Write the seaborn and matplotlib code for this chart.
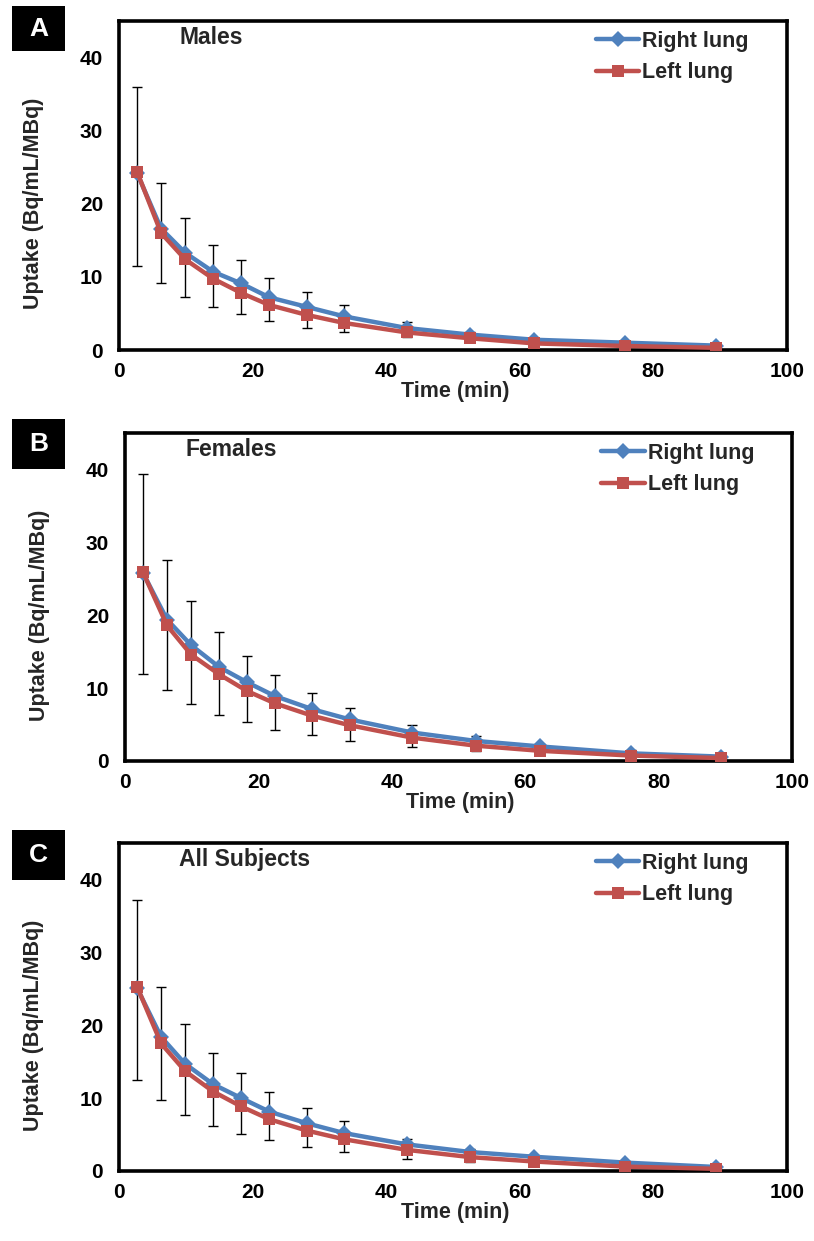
import matplotlib
import matplotlib.pyplot as plt
import pandas as pd
import seaborn as sns
from matplotlib.patches import Rectangle

matplotlib.use('Agg')

# Datos
time = [2.7, 6.3, 9.9, 14.1, 18.3, 22.5, 28.1, 33.7, 43.1, 52.6, 62.2, 75.8, 89.4]

right_males = [24.2, 16.6, 13.3, 10.7, 9.1, 7.2, 5.9, 4.6, 3.0, 2.1, 1.4, 1.0, 0.6]
left_males = [24.4, 16.0, 12.4, 9.75, 7.8, 6.15, 4.8, 3.7, 2.4, 1.6, 0.9, 0.55, 0.3]
err_top_males = [36.0, 22.9, 18.0, 14.4, 12.3, 9.8, 8.0, 6.1, 3.8, 2.5, 1.7, 1.2, 0.8]
err_bot_males = [11.5, 9.1, 7.3, 5.9, 4.9, 3.9, 3.05, 2.4, 1.8, 1.2, 0.7, 0.4, 0.2]

right_females = [25.8, 19.4, 15.9, 12.9, 10.8, 8.9, 7.1, 5.7, 3.9, 2.75, 2.0, 1.05, 0.6]
left_females = [25.9, 18.6, 14.6, 11.9, 9.6, 7.9, 6.2, 4.9, 3.2, 2.1, 1.4, 0.75, 0.4]
err_top_females = [39.4, 27.6, 21.9, 17.7, 14.4, 11.8, 9.3, 7.3, 5.0, 3.4, 2.4, 1.5, 0.9]
err_bot_females = [11.9, 9.7, 7.8, 6.35, 5.3, 4.3, 3.6, 2.8, 1.9, 1.4, 1.0, 0.5, 0.3]

right_all = [25.1, 18.4, 14.7, 11.9, 10.0, 8.15, 6.55, 5.2, 3.65, 2.6, 1.95, 1.15, 0.55]
left_all = [25.3, 17.5, 13.7, 10.9, 8.85, 7.1, 5.55, 4.35, 2.9, 1.9, 1.3, 0.6, 0.3]
err_top_all = [37.2, 25.3, 20.2, 16.2, 13.4, 10.9, 8.7, 6.8, 4.45, 3.0, 2.1, 1.3, 0.7]
err_bot_all = [12.5, 9.7, 7.7, 6.2, 5.1, 4.2, 3.35, 2.6, 1.6, 1.2, 0.8, 0.4, 0.2]

panel_titles = ['Males', 'Females', 'All Subjects']
panel_letters = ['A', 'B', 'C']
series_names = ['Right lung', 'Left lung']
x_ticks = [0, 20, 40, 60, 80, 100]
y_ticks = [0, 10, 20, 30, 40]

sns.set_style('white')
plt.rcParams['font.family'] = ['Liberation Sans', 'DejaVu Sans']
plt.rcParams['font.weight'] = 'bold'

BLUE = '#4F81BD'
RED = '#C0504D'

W, H = 814, 1241
fig = plt.figure(figsize=(W / 100, H / 100), dpi=100)

# Cajas de ejes en pixeles: (izq, der, arriba, abajo)
boxes = [(119, 787, 21, 350), (125, 792, 433, 761), (119, 787, 843, 1171)]
letter_boxes = [(12, 65, 6, 51), (12, 65, 419, 469), (12, 65, 830, 880)]

panels = [
    (right_males, left_males, err_top_males, err_bot_males),
    (right_females, left_females, err_top_females, err_bot_females),
    (right_all, left_all, err_top_all, err_bot_all),
]

for i, (right, left, etop, ebot) in enumerate(panels):
    l, r, t, b = boxes[i]
    ax = fig.add_axes([l / W, 1 - b / H, (r - l) / W, (b - t) / H])

    df = pd.DataFrame({
        'time': time * 2,
        'uptake': right + left,
        'lung': [series_names[0]] * len(time) + [series_names[1]] * len(time),
    })

    # Barras de error
    mid = [(a + c) / 2 for a, c in zip(etop, ebot)]
    half = [(a - c) / 2 for a, c in zip(etop, ebot)]
    ax.errorbar(time, mid, yerr=half, fmt='none', ecolor='black',
                elinewidth=1.0, capsize=3.5, capthick=1.0, zorder=1)

    sns.lineplot(
        data=df, x='time', y='uptake', hue='lung', style='lung',
        hue_order=series_names, style_order=series_names,
        palette={series_names[0]: BLUE, series_names[1]: RED},
        markers={series_names[0]: 'D', series_names[1]: 's'},
        dashes=False, linewidth=3.2, markersize=8.5,
        markeredgewidth=0, ax=ax, zorder=3,
    )

    ax.set_xlim(0, 100)
    ax.set_ylim(0, 45)
    ax.set_xticks(x_ticks)
    ax.set_yticks(y_ticks)
    ax.tick_params(axis='both', direction='out', length=5.5, width=1,
                   color='#8c8c8c', labelsize=15, labelcolor='black')
    ax.tick_params(axis='x', pad=3)
    ax.tick_params(axis='y', pad=6)
    for lab in ax.get_xticklabels() + ax.get_yticklabels():
        lab.set_fontweight('bold')

    for side in ['top', 'right', 'left', 'bottom']:
        ax.spines[side].set_color('black')
        ax.spines[side].set_linewidth(2.6)

    ax.set_xlabel('Time (min)', fontsize=15.5, fontweight='bold')
    ax.set_ylabel('Uptake (Bq/mL/MBq)', fontsize=15.5, fontweight='bold')
    ax.xaxis.set_label_coords(0.503, -0.093)
    ax.yaxis.set_label_coords(-0.112, 0.445)

    ax.text(0.09, 0.95, panel_titles[i], transform=ax.transAxes,
            fontsize=16.5, fontweight='bold', ha='left', va='center')

    handles, labels = ax.get_legend_handles_labels()
    ax.legend(handles, labels, loc='upper left', bbox_to_anchor=(0.695, 1.01),
              frameon=False, handlelength=2.0,
              handletextpad=0.15, labelspacing=0.5, borderaxespad=0.2,
              prop={'weight': 'bold', 'size': 15.5})

    # Recuadro negro con la letra del panel
    bl, br, bt, bb = letter_boxes[i]
    fig.patches.append(Rectangle((bl / W, 1 - bb / H), (br - bl) / W,
                                 (bb - bt) / H, transform=fig.transFigure,
                                 facecolor='black', edgecolor='none'))
    fig.text((bl + br) / 2 / W, 1 - (bt + bb) / 2 / H, panel_letters[i],
             color='white', fontsize=19, fontweight='bold',
             ha='center', va='center')

fig.savefig('out.png', dpi=100)
plt.close(fig)
